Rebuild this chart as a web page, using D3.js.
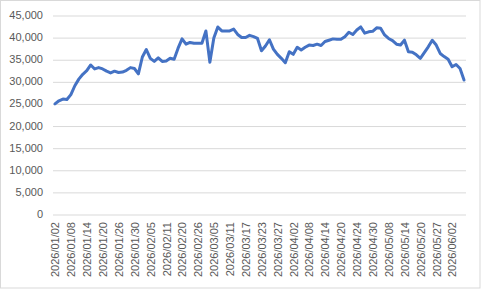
<!DOCTYPE html>
<html>
<head>
<meta charset="utf-8">
<script src="https://cdn.jsdelivr.net/npm/d3@7/dist/d3.min.js"></script>
<style>
  html, body { margin: 0; padding: 0; background: #fff; }
  svg { display: block; font-family: "Liberation Sans", Arial, sans-serif; }
  .axis text { fill: #595959; font-size: 11px; }
  .grid line { stroke: #d9d9d9; stroke-width: 1; }
</style>
</head>
<body>
<svg id="chart"></svg>
<script>
// trading days shown on the category axis
const dates = [
  '2026/01/02','2026/01/05','2026/01/06','2026/01/07','2026/01/08','2026/01/09','2026/01/12','2026/01/13',
  '2026/01/14','2026/01/15','2026/01/16','2026/01/19','2026/01/20','2026/01/21','2026/01/22','2026/01/23',
  '2026/01/26','2026/01/27','2026/01/28','2026/01/29','2026/01/30','2026/02/02','2026/02/03','2026/02/04',
  '2026/02/05','2026/02/06','2026/02/09','2026/02/10','2026/02/11','2026/02/12','2026/02/13','2026/02/19',
  '2026/02/20','2026/02/23','2026/02/24','2026/02/25','2026/02/26','2026/02/27','2026/03/03','2026/03/04',
  '2026/03/05','2026/03/06','2026/03/09','2026/03/10','2026/03/11','2026/03/12','2026/03/13','2026/03/16',
  '2026/03/17','2026/03/18','2026/03/19','2026/03/20','2026/03/23','2026/03/24','2026/03/25','2026/03/26',
  '2026/03/27','2026/03/30','2026/03/31','2026/04/01','2026/04/02','2026/04/03','2026/04/06','2026/04/07',
  '2026/04/08','2026/04/09','2026/04/10','2026/04/13','2026/04/14','2026/04/15','2026/04/16','2026/04/17',
  '2026/04/20','2026/04/21','2026/04/22','2026/04/23','2026/04/24','2026/04/27','2026/04/28','2026/04/29',
  '2026/04/30','2026/05/04','2026/05/06','2026/05/07','2026/05/08','2026/05/11','2026/05/12','2026/05/13',
  '2026/05/14','2026/05/15','2026/05/18','2026/05/19','2026/05/20','2026/05/21','2026/05/22','2026/05/26',
  '2026/05/27','2026/05/28','2026/05/29','2026/06/01','2026/06/02','2026/06/04','2026/06/05','2026/06/08'
];

const values = [
  24900, 25600, 26000, 25900, 27000, 29000, 30500, 31600,
  32400, 33700, 32800, 33100, 32800, 32300, 31900, 32300,
  32000, 32100, 32500, 33100, 32900, 31700, 35500, 37200,
  35200, 34500, 35300, 34500, 34600, 35200, 35000, 37500,
  39600, 38400, 38800, 38600, 38600, 38600, 41400, 34300,
  39800, 42300, 41400, 41400, 41400, 41800, 40600, 39900,
  39900, 40400, 40100, 39700, 36900, 38000, 39400, 37300,
  36100, 35200, 34200, 36700, 36100, 37700, 37100, 37700,
  38200, 38100, 38400, 38100, 39000, 39300, 39600, 39500,
  39500, 40100, 41100, 40600, 41600, 42300, 40900, 41200,
  41300, 42100, 42000, 40500, 39700, 39200, 38400, 38200,
  39300, 36700, 36600, 36000, 35200, 36500, 37800, 39300,
  38200, 36300, 35600, 35000, 33300, 33800, 32900, 30300
];

const yTicks = [0, 5000, 10000, 15000, 20000, 25000, 30000, 35000, 40000, 45000];
const xTickLabels = dates.filter((d, i) => i % 4 === 0);

const data = dates.map((d, i) => ({ date: d, value: values[i] }));

const width = 481, height = 289;
const margin = { top: 15, right: 15, bottom: 75, left: 53 };

const svg = d3.select('#chart')
    .attr('width', width)
    .attr('height', height);

// outer chart border
svg.append('rect')
    .attr('x', 0.5).attr('y', 0.5)
    .attr('width', width - 1.5).attr('height', height - 1.5)
    .attr('fill', '#fff')
    .attr('stroke', '#d9d9d9');

const x = d3.scalePoint()
    .domain(dates)
    .range([margin.left, width - margin.right])
    .padding(0.5);

const y = d3.scaleLinear()
    .domain([0, 45000])
    .range([height - margin.bottom, margin.top]);

// y axis + gridlines
const yAxisG = svg.append('g')
    .attr('class', 'axis grid')
    .attr('transform', `translate(${margin.left},0)`)
    .call(d3.axisLeft(y)
        .tickValues(yTicks)
        .tickSize(-(width - margin.left - margin.right))
        .tickPadding(10)
        .tickFormat(d3.format(',')));
yAxisG.select('.domain').remove();
yAxisG.selectAll('.tick line').attr('transform', 'translate(0,0.5)');

// x axis, every 4th trading day labelled
const xAxisG = svg.append('g')
    .attr('class', 'axis')
    .attr('transform', `translate(0,${height - margin.bottom})`)
    .call(d3.axisBottom(x)
        .tickValues(xTickLabels)
        .tickSize(0));
xAxisG.select('.domain').remove();
xAxisG.selectAll('text')
    .attr('transform', 'rotate(-90)')
    .attr('x', -8)
    .attr('y', 0)
    .attr('dy', '0.35em')
    .style('text-anchor', 'end');

const line = d3.line()
    .x(d => x(d.date))
    .y(d => y(d.value));

svg.append('path')
    .datum(data)
    .attr('fill', 'none')
    .attr('stroke', '#4472c4')
    .attr('stroke-width', 3)
    .attr('stroke-linejoin', 'round')
    .attr('stroke-linecap', 'round')
    .attr('d', line);
</script>
</body>
</html>
